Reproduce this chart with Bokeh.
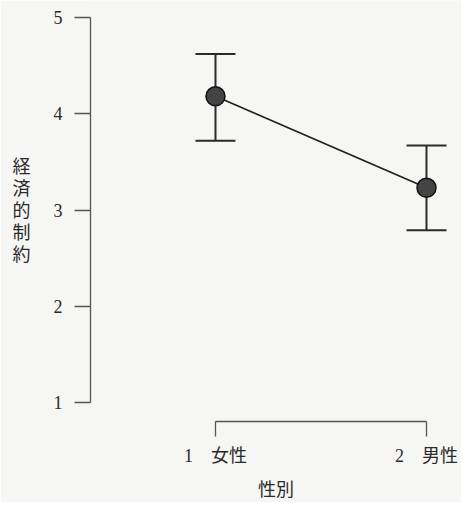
from bokeh.plotting import figure
from bokeh.models import ColumnDataSource, Whisker, TeeHead, FixedTicker, Range1d
from bokeh.embed import file_html
from bokeh.resources import INLINE

# data
groups = [1, 2]
group_labels = ["1\u3000女性", "2\u3000男性"]
means = [4.18, 3.23]
upper = [4.62, 3.67]
lower = [3.72, 2.79]
y_ticks = [1, 2, 3, 4, 5]
y_title = "経\n済\n的\n制\n約"
x_title = "性別"

FONT = "'Liberation Serif', 'Noto Sans CJK JP', serif"
BG = "#f6f6f4"
INK = "#2a2a2a"

src = ColumnDataSource(dict(x=groups, m=means, up=upper, lo=lower))

p = figure(width=461, height=502, output_backend="svg", toolbar_location=None,
           x_range=Range1d(0.4076, 2.1659), y_range=Range1d(0.8046, 5.1748),
           min_border_left=90, min_border_bottom=77, min_border_top=0, min_border_right=0)
p.background_fill_color = BG
p.border_fill_color = BG
p.outline_line_color = None
p.grid.visible = False

xa = p.xaxis[0]
xa.bounds = (1, 2)
xa.ticker = FixedTicker(ticks=groups)
xa.major_label_overrides = {g: l for g, l in zip(groups, group_labels)}
xa.minor_tick_line_color = None
xa.major_tick_out = 15
xa.major_tick_in = 0
xa.axis_line_color = "#555555"
xa.major_tick_line_color = "#555555"
xa.axis_line_width = 1.3
xa.major_tick_line_width = 1.3
xa.major_label_text_font = FONT
xa.major_label_text_font_size = "18px"
xa.major_label_text_color = INK
xa.major_label_standoff = 9
xa.axis_label = x_title
xa.axis_label_text_font = FONT
xa.axis_label_text_font_size = "18px"
xa.axis_label_text_font_style = "normal"
xa.axis_label_text_color = INK
xa.axis_label_standoff = 11

ya = p.yaxis[0]
ya.bounds = (1, 5)
ya.ticker = FixedTicker(ticks=y_ticks)
ya.minor_tick_line_color = None
ya.major_tick_out = 16
ya.major_tick_in = 0
ya.axis_line_color = "#555555"
ya.major_tick_line_color = "#555555"
ya.axis_line_width = 1.3
ya.major_tick_line_width = 1.3
ya.major_label_text_font = FONT
ya.major_label_text_font_size = "18px"
ya.major_label_text_color = INK
ya.major_label_standoff = 12
ya.axis_label = y_title
ya.axis_label_orientation = "horizontal"
ya.axis_label_text_font = FONT
ya.axis_label_text_font_size = "18px"
ya.axis_label_text_font_style = "normal"
ya.axis_label_text_color = INK
ya.axis_label_text_line_height = 1.1
ya.axis_label_standoff = 20

w = Whisker(source=src, base="x", upper="up", lower="lo", dimension="height",
            line_color=INK, line_width=2,
            upper_head=TeeHead(size=40, line_color=INK, line_width=2),
            lower_head=TeeHead(size=40, line_color=INK, line_width=2))
p.add_layout(w)

p.line("x", "m", source=src, line_color="#1e1e1e", line_width=1.6)
p.scatter("x", "m", source=src, size=19, fill_color="#444444",
          line_color="#111111", line_width=1.5)

open("out.html", "w").write(file_html(p, INLINE))
